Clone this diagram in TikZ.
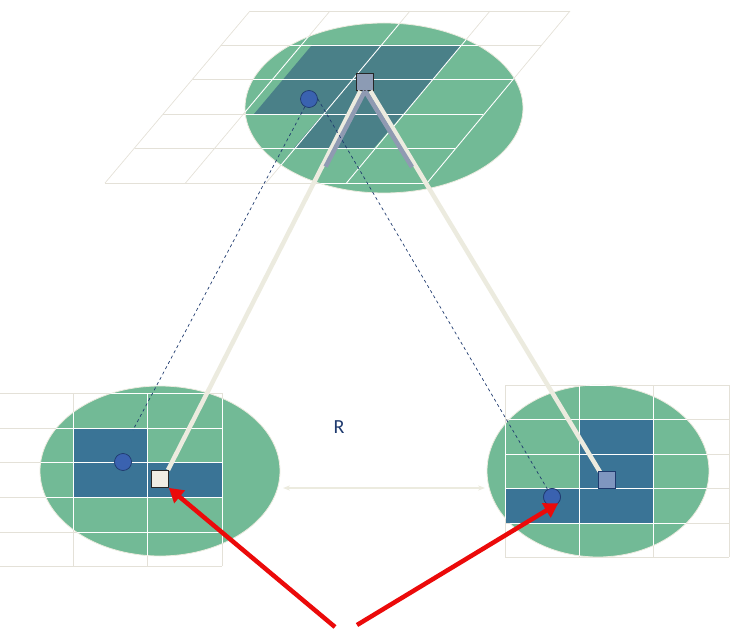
\documentclass[tikz,border=0pt]{standalone}
\usepackage{fontspec}
\setmainfont{Carlito}
\usetikzlibrary{arrows.meta,calc}
\definecolor{eg}{HTML}{72BA96}
\definecolor{dk}{HTML}{3A7496}
\definecolor{dkt}{HTML}{4A8088}
\definecolor{gl}{HTML}{E4E1D8}
\definecolor{bg}{HTML}{ECEBDF}
\definecolor{nv}{HTML}{1F3A6E}
\definecolor{cb}{HTML}{3A62B0}
\tikzset{
 ell/.style={fill=eg,draw=bg,line width=0.8pt},
 grid/.style={draw=gl,line width=0.7pt},
 wgrid/.style={draw=white,line width=0.9pt},
 beam/.style={draw=bg,line width=4.5pt},
 dashln/.style={draw=nv,dashed,line width=0.7pt},
 dot/.style={circle,draw=nv,fill=cb,minimum size=17pt,inner sep=0pt,line width=0.7pt},
 sq/.style={rectangle,draw=black!85,minimum size=17pt,inner sep=0pt,line width=0.8pt},
 redarrow/.style={draw={rgb,255:red,235;green,10;blue,10},line width=4.5pt,-{Triangle[length=14pt,width=16pt]}},
}
\begin{document}
\begin{tikzpicture}[x=1pt,y=-1pt]
\useasboundingbox (0,0) rectangle (749,644);
% top
\fill[ell] (384,108) ellipse [x radius=139,y radius=85];
\fill[dkt] (312,45) -- (462,45) -- (404,114) -- (254,114) -- cycle;
\fill[dkt] (323,114) -- (403,114) -- (374,148) -- (294,148) -- cycle;
\begin{scope}
\clip (384,108) ellipse [x radius=139,y radius=85];
\foreach \y in {11,45,79,114,148,183}{\draw[wgrid] ({250-0.843*(\y-11)},\y) -- ({570-0.843*(\y-11)},\y);}
\foreach \k in {0,...,4}{\draw[wgrid] ({250+80*\k},11) -- ({105+80.5*\k},183);}
\end{scope}
\begin{scope}[even odd rule]
\clip (0,0) rectangle (749,644) (384,108) ellipse [x radius=139,y radius=85];
\foreach \y in {11,45,79,114,148,183}{\draw[grid] ({250-0.843*(\y-11)},\y) -- ({570-0.843*(\y-11)},\y);}
\foreach \k in {0,...,4}{\draw[grid] ({250+80*\k},11) -- ({105+80.5*\k},183);}
\end{scope}
% bottom left
\fill[ell] (160,471) ellipse [x radius=120,y radius=85];
\fill[dk] (73,428) rectangle (147,497);
\fill[dk] (147,462) rectangle (222,497);
\foreach \y in {393,428,462,497,532,566}{\draw[grid] (0,\y) -- (222,\y);}
\foreach \x in {73,147,222}{\draw[grid] (\x,393) -- (\x,566);}
\begin{scope}
\clip (160,471) ellipse [x radius=120,y radius=85];
\foreach \y in {393,428,462,497,532,566}{\draw[wgrid] (0,\y) -- (222,\y);}
\foreach \x in {73,147,222}{\draw[wgrid] (\x,393) -- (\x,566);}
\end{scope}
% bottom right
\fill[ell] (598,471) ellipse [x radius=111,y radius=86];
\fill[dk] (579,419) rectangle (653,523);
\fill[dk] (505,488) rectangle (579,523);
\foreach \y in {385,419,454,488,523,557}{\draw[grid] (505,\y) -- (729,\y);}
\foreach \x in {505,579,653,729}{\draw[grid] (\x,385) -- (\x,557);}
\begin{scope}
\clip (598,471) ellipse [x radius=111,y radius=86];
\foreach \y in {385,419,454,488,523,557}{\draw[wgrid] (505,\y) -- (729,\y);}
\foreach \x in {505,579,653,729}{\draw[wgrid] (\x,385) -- (\x,557);}
\end{scope}
% nodes
\node[dot] (tc) at (309,99) {};
\node[sq,fill={rgb,255:red,140;green,155;blue,180}] (ts) at (365,82) {};
\node[dot] (lc) at (123,462) {};
\node[dot] (rc) at (552,497) {};
\coordinate (le) at (133,430);
% beams
\draw[beam] (ts) -- (168,470) coordinate (lb);
\draw[beam] (ts) -- (600,472) coordinate (rb);
\draw[line width=4.5pt,draw={rgb,255:red,143;green,154;blue,178}] (ts.south) -- ($(ts.south)!0.2!(lb)$);
\draw[line width=4.5pt,draw={rgb,255:red,143;green,154;blue,178}] (ts.south) -- ($(ts.south)!0.2!(rb)$);
\draw[dashln] (tc) -- (le);
\draw[dashln] (tc.east) -- (rc);
\node[sq,fill={rgb,255:red,240;green,237;blue,228}] (ls) at (160,479) {};
\node[sq,draw=nv,fill={rgb,255:red,127;green,150;blue,192}] (rs) at (607,480) {};
\node[dot] at (rc) {};
% R
\coordinate (ra) at (283,488);
\coordinate (rb2) at (485,488);
\draw[draw=bg,line width=1.2pt,{Stealth[length=7pt]}-{Stealth[length=7pt]}] (ra) -- (rb2);
\node[text=nv,font=\fontsize{20}{24}\selectfont] (R) at (339,427) {R};
% red arrows
\coordinate (o1) at (335,627);
\coordinate (o2) at (357,625);
\draw[redarrow] (o1) -- (ls.south east);
\draw[redarrow] (o2) -- (rc.south east);
\end{tikzpicture}
\end{document}
